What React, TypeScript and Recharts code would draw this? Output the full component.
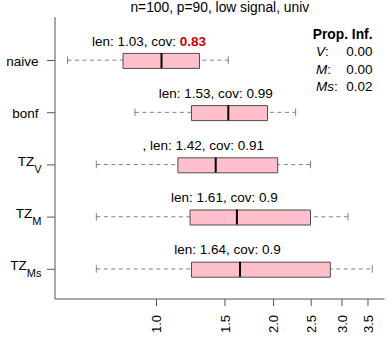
import React from 'react';
import { ComposedChart, Bar, Scatter, XAxis, YAxis, Customized } from 'recharts';

const categories = ['naive', 'bonf', 'TZ_V', 'TZ_M', 'TZ_Ms'];
const categoryMain = ['naive', 'bonf', 'TZ', 'TZ', 'TZ'];
const categorySub = ['', '', 'V', 'M', 'Ms'];
const whiskerLow = [0.59, 0.88, 0.7, 0.7, 0.7];
const quartile1 = [0.82, 1.23, 1.135, 1.22, 1.23];
const medians = [1.03, 1.53, 1.42, 1.61, 1.64];
const quartile3 = [1.29, 1.93, 2.05, 2.49, 2.8];
const whiskerHigh = [1.53, 2.28, 2.49, 3.11, 3.59];
const labelPrefixes = ['', '', ', ', '', ''];
const lenLabels = ['1.03', '1.53', '1.42', '1.61', '1.64'];
const covLabels = ['0.83', '0.99', '0.91', '0.9', '0.9'];
const covFlagged = [true, false, false, false, false];
const xTicks = [1.0, 1.5, 2.0, 2.5, 3.0, 3.5];
const xDomain = [0.548, 3.86];
const titleText = 'n=100, p=90, low signal, univ';
const legendTitle = 'Prop. Inf.';
const legendKeys = ['V', 'M', 'Ms'];
const legendValues = ['0.00', '0.00', '0.02'];

const data = categories.map((name, i) => ({
  name,
  whisker: [whiskerLow[i], whiskerHigh[i]],
  box: [quartile1[i], quartile3[i]],
  med: medians[i],
  prefix: labelPrefixes[i],
  len: lenLabels[i],
  cov: covLabels[i],
  flag: covFlagged[i],
}));

const FONT = '"Liberation Sans", Arial, Helvetica, sans-serif';
const FRAME = '#555555';
const yPadding = { top: 17.4, bottom: 3.6 };

const XTick = (props: any) => {
  const { x, y, payload } = props;
  return (
    <text
      x={x}
      y={y}
      transform={`rotate(-90 ${x} ${y})`}
      textAnchor="end"
      dy="0.36em"
      fontSize={13}
      fontFamily={FONT}
      fill="#000"
    >
      {Number(payload.value).toFixed(1)}
    </text>
  );
};

const YTick = (props: any) => {
  const { x, y, payload } = props;
  const i = categories.indexOf(payload.value);
  const main = categoryMain[i];
  const sub = categorySub[i];
  if (!sub) {
    return (
      <text x={x} y={y} dy={5} textAnchor="end" fontSize={13.5} fontFamily={FONT} fill="#000">
        {main}
      </text>
    );
  }
  return (
    <text x={x + 3} y={y} dy={1} textAnchor="end" fontSize={13.5} fontFamily={FONT} fill="#000">
      {main}
      <tspan dy={7} fontSize={11}>
        {sub}
      </tspan>
    </text>
  );
};

const WhiskerShape = (props: any) => {
  const { x, y, width, height } = props;
  const cy = y + height / 2;
  return (
    <g>
      <line x1={x} x2={x + width} y1={cy} y2={cy} stroke="#808080" strokeDasharray="4 3.5" />
      <line x1={x} x2={x} y1={y} y2={y + height} stroke="#808080" />
      <line x1={x + width} x2={x + width} y1={y} y2={y + height} stroke="#808080" />
    </g>
  );
};

const MedianShape = (props: any) => {
  const { cx, cy, payload } = props;
  return (
    <g>
      <line x1={cx} x2={cx} y1={cy - 7.5} y2={cy + 7.5} stroke="#000" strokeWidth={2} />
      <text
        x={cx}
        y={cy - 15}
        dx={-12.5}
        textAnchor="middle"
        fontSize={13.5}
        fontFamily={FONT}
        fill="#000"
      >
        {`${payload.prefix}len: ${payload.len}, cov: `}
        <tspan fontWeight={payload.flag ? 'bold' : 'normal'} fill={payload.flag ? '#CD0000' : '#000'}>
          {payload.cov}
        </tspan>
      </text>
    </g>
  );
};

const Annotations = () => (
  <g fontFamily={FONT} fill="#000">
    <text x={219.8} y={12} textAnchor="middle" fontSize={13.8}>
      {titleText}
    </text>
    <text x={372.5} y={38.5} textAnchor="end" fontSize={13.8} fontWeight="bold">
      {legendTitle}
    </text>
    {legendKeys.map((k, i) => (
      <g key={k}>
        <text x={316} y={56 + i * 17.5} fontSize={13.5}>
          <tspan fontStyle="italic">{k}</tspan>:
        </text>
        <text x={372.5} y={56 + i * 17.5} textAnchor="end" fontSize={13.5}>
          {legendValues[i]}
        </text>
      </g>
    ))}
  </g>
);

export default function App() {
  return (
    <div style={{ position: 'absolute', left: 0, top: 0, background: '#fff' }}>
      <ComposedChart
        width={388}
        height={346}
        data={data}
        layout="vertical"
        margin={{ top: 17, right: 3.5, bottom: 0, left: 0 }}
      >
        <XAxis
          xAxisId="bottom"
          type="number"
          scale="log"
          domain={xDomain}
          allowDataOverflow
          ticks={xTicks}
          interval={0}
          tick={<XTick />}
          tickSize={7}
          tickMargin={9}
          height={47}
          stroke={FRAME}
        />
        <XAxis
          xAxisId="top"
          orientation="top"
          type="number"
          scale="log"
          domain={xDomain}
          allowDataOverflow
          height={0}
          tick={false}
          tickLine={false}
          stroke={FRAME}
        />
        <YAxis
          yAxisId="left"
          type="category"
          dataKey="name"
          width={55}
          padding={yPadding}
          interval={0}
          tick={<YTick />}
          tickSize={8}
          tickMargin={8.5}
          stroke={FRAME}
        />
        <YAxis
          yAxisId="right"
          orientation="right"
          type="category"
          dataKey="name"
          width={0}
          padding={yPadding}
          tick={false}
          tickLine={false}
          stroke={FRAME}
        />
        <Bar
          xAxisId="top"
          yAxisId="right"
          dataKey="whisker"
          barSize={7.5}
          shape={WhiskerShape}
          isAnimationActive={false}
        />
        <Bar
          xAxisId="bottom"
          yAxisId="left"
          dataKey="box"
          barSize={15}
          fill="#FFC0CB"
          stroke="#4d4d4d"
          strokeWidth={1}
          isAnimationActive={false}
        />
        <Scatter
          xAxisId="bottom"
          yAxisId="left"
          dataKey="med"
          shape={MedianShape}
          isAnimationActive={false}
        />
        <Customized component={Annotations} />
      </ComposedChart>
    </div>
  );
}
